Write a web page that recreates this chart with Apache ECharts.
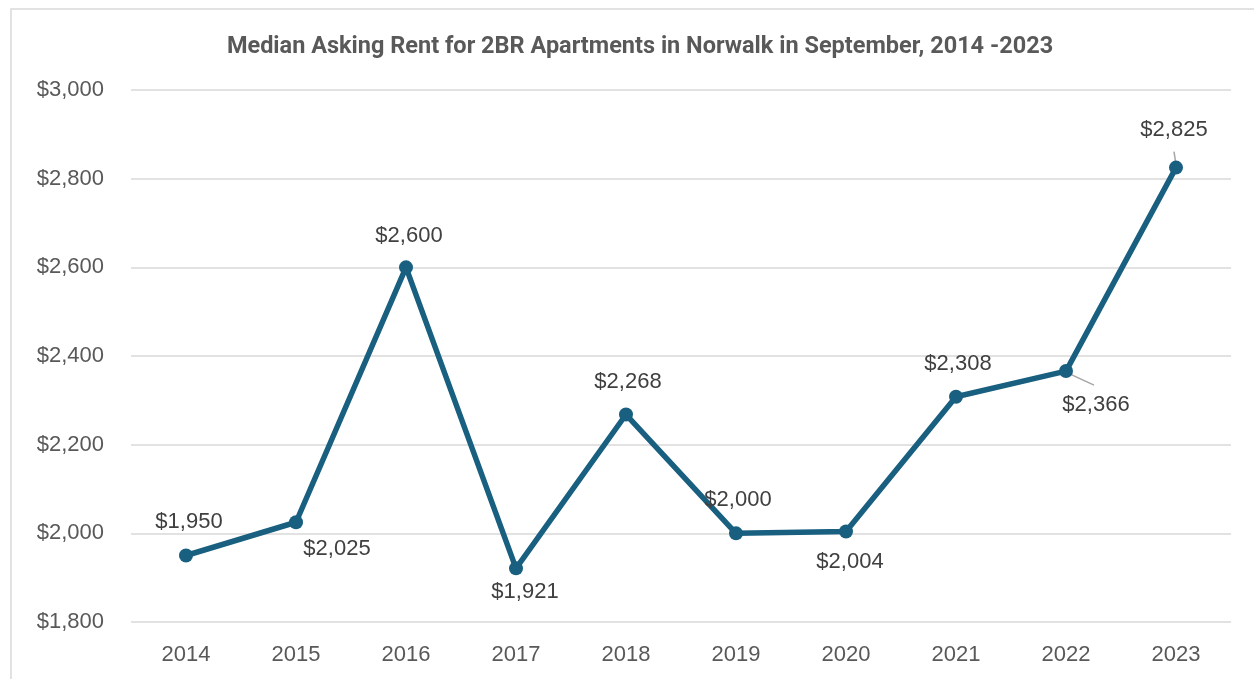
<!DOCTYPE html>
<html>
<head>
<meta charset="utf-8">
<script src="https://cdn.jsdelivr.net/npm/echarts@6/dist/echarts.min.js"></script>
<style>
  html, body { margin: 0; padding: 0; background: #ffffff; }
  #chart { width: 1254px; height: 679px; }
</style>
</head>
<body>
<div id="chart"></div>
<script>
// Median asking rent, 2BR apartments in Norwalk (September of each year)
const years = ['2014', '2015', '2016', '2017', '2018', '2019', '2020', '2021', '2022', '2023'];
const rents = [1950, 2025, 2600, 1921, 2268, 2000, 2004, 2308, 2366, 2825];
// Where each value label sits relative to its point (label centre shift in px)
const labelShifts = [[3, -34], [41, 27], [3, -31], [9, 24], [2, -33], [2, -33], [4, 30], [2, -33], [30, 34], [-2, -38]];
// Short leader strokes for labels pushed away from their point: [x0, y0, x1, y1] in px from the point
const leaderStrokes = { 8: [2, 2, 28, 14], 9: [-2, -16, 0, -3] };

const money = v => '$' + v.toLocaleString('en-US');
const font = 'Liberation Sans';
const lineColor = '#185f80';

const chart = echarts.init(document.getElementById('chart'));
chart.setOption({
  animation: false,
  backgroundColor: '#ffffff',
  title: {
    text: 'Median Asking Rent for 2BR Apartments in Norwalk in September, 2014 -2023',
    left: 635,
    top: 30,
    textAlign: 'center',
    textStyle: { fontFamily: 'Roboto', fontWeight: 'bold', fontSize: 23.5, color: '#595959' }
  },
  graphic: [{
    type: 'rect',
    shape: { x: 11, y: 9, width: 1260, height: 700 },
    style: { fill: 'none', stroke: '#d9d9d9', lineWidth: 1.5 },
    silent: true
  }],
  grid: { left: 131, right: 23, top: 90, bottom: 57 },
  xAxis: {
    type: 'category',
    data: years,
    boundaryGap: true,
    axisLine: { show: false },
    axisTick: { show: false },
    axisLabel: { fontFamily: font, fontSize: 22, color: '#595959', margin: 22 }
  },
  yAxis: {
    type: 'value',
    min: 1800,
    max: 3000,
    interval: 200,
    axisLine: { show: false },
    axisTick: { show: false },
    splitLine: { lineStyle: { color: '#d9d9d9', width: 1.5 } },
    axisLabel: { fontFamily: font, fontSize: 22, color: '#595959', margin: 27, formatter: money }
  },
  series: [
    {
      // leader strokes, drawn beneath the line
      type: 'custom',
      silent: true,
      z: 1,
      data: rents.map((v, i) => [i, v]),
      renderItem: (params, api) => {
        const s = leaderStrokes[params.dataIndex];
        if (!s) return null;
        const p = api.coord([api.value(0), api.value(1)]);
        return {
          type: 'line',
          shape: { x1: p[0] + s[0], y1: p[1] + s[1], x2: p[0] + s[2], y2: p[1] + s[3] },
          style: { stroke: '#a6a6a6', lineWidth: 1.5 }
        };
      }
    },
    {
      type: 'line',
      z: 2,
      data: rents,
      symbol: 'circle',
      symbolSize: 14,
      itemStyle: { color: lineColor },
      lineStyle: { color: lineColor, width: 5.5 },
      label: {
        show: true,
        position: 'inside',
        formatter: p => money(p.value),
        fontFamily: font,
        fontSize: 22,
        color: '#404040'
      },
      labelLayout: p => ({ dx: labelShifts[p.dataIndex][0], dy: labelShifts[p.dataIndex][1] })
    }
  ]
});
</script>
</body>
</html>
